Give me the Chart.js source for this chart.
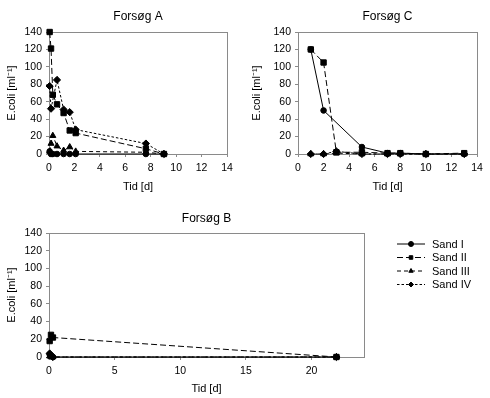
<!DOCTYPE html>
<html><head><meta charset="utf-8">
<script src="https://cdn.jsdelivr.net/npm/chart.js@4.4.0/dist/chart.umd.min.js"></script>
<style>
body{margin:0;background:#fff;width:490px;height:398px;position:relative;overflow:hidden}
canvas{position:absolute}
</style></head><body>
<canvas id="cA" width="245" height="200" style="left:0;top:0"></canvas>
<canvas id="cC" width="245" height="200" style="left:245px;top:0"></canvas>
<canvas id="cB" width="490" height="198" style="left:0;top:200px"></canvas>
<script>
// ---- data ----
const seriesLabels = ['Sand I', 'Sand II', 'Sand III', 'Sand IV'];
const panelTitles = ['Forsøg A', 'Forsøg C', 'Forsøg B'];
const xTitle = 'Tid [d]';
const yTitle = 'E.coli [ml\u207B\u00B9]';

const aTime  = [0.05, 0.16, 0.3, 0.63, 1.15, 1.63, 2.1, 7.62, 9.04];
const aSand1 = [3, 0, 0, 0, 0, 0, 0, 0, 0];
const aSand2 = [140, 121, 68, 57, 47, 27, 24, 6, 0];
const aSand3 = [3, 12, 21, 9, 4, 8, 3, 2, 0];
const aSand4 = [78, 52, null, 85, 51, 48, 28, 12, 0];

const cTime  = [1, 2, 3, 5, 7, 8, 10, 13];
const cSand1 = [120, 50, null, 8, 1, 1, 0, 0];
const cSand2 = [120, 105, 2, 2, 1, 1, 0, 1];
const cSand3 = [0, 0, 1, 0, 0, 0, 0, 0];
const cSand4 = [0, 0, 3, 0, 0, 0, 0, 0];

const bTime  = [0.05, 0.15, 0.3, 21.9];
const bSand1 = [3, 1, 0, 0];
const bSand2 = [18, 25, 22, 0];
const bSand3 = [1, 0, 0, 0];
const bSand4 = [4, 2, 0, 0];

const yTickValues  = [0, 20, 40, 60, 80, 100, 120, 140];
const acTickValues = [0, 2, 4, 6, 8, 10, 12, 14];
const bTickValues  = [0, 5, 10, 15, 20];

// ---- styles ----
const pointStyles = ['circle', 'rect', 'triangle', 'rectRot'];
const pointRadii = [2.8, 3.8, 3.5, 3.6];
const dashes = [[], [6, 3], [4, 3], [2.5, 2]];
const FONT = 'Liberation Sans, Arial, sans-serif';
const GRAY = '#8a8a8a';

function buildDatasets(times, series) {
  return series.map((vals, i) => ({
    label: seriesLabels[i],
    data: times.map((t, k) => ({ x: t, y: vals[k] })),
    borderColor: '#000', backgroundColor: '#000',
    borderWidth: 1, borderDash: dashes[i],
    pointStyle: pointStyles[i], pointRadius: pointRadii[i],
    pointBorderWidth: 1, spanGaps: true, clip: false, tension: 0
  }));
}

const framePlugin = {
  id: 'frame',
  beforeDatasetsDraw(chart) {
    const a = chart.chartArea, ctx = chart.ctx;
    ctx.save(); ctx.strokeStyle = GRAY; ctx.lineWidth = 1;
    ctx.strokeRect(Math.round(a.left) + 0.5, Math.round(a.top) + 0.5,
      Math.round(a.right - a.left), Math.round(a.bottom - a.top));
    ctx.restore();
  },
  afterDraw(chart, args, opts) {
    const a = chart.chartArea, ctx = chart.ctx;
    ctx.save(); ctx.fillStyle = '#000'; ctx.font = '12px ' + FONT;
    ctx.textAlign = 'center'; ctx.textBaseline = 'middle';
    ctx.fillText(opts.text, (a.left + a.right) / 2, opts.y);
    if (opts.legend) {
      const L = opts.legend;
      chart.data.datasets.forEach((ds, i) => {
        const y = L.y0 + i * L.dy;
        ctx.strokeStyle = '#000'; ctx.lineWidth = 1;
        ctx.setLineDash(dashes[i]);
        ctx.beginPath(); ctx.moveTo(L.x0, y); ctx.lineTo(L.x1, y); ctx.stroke();
        ctx.setLineDash([]);
        Chart.helpers.drawPoint(ctx, { pointStyle: pointStyles[i], radius: 2.5, borderWidth: 1, rotation: 0 },
          (L.x0 + L.x1) / 2, y);
        ctx.fillStyle = '#000'; ctx.font = '11px ' + FONT;
        ctx.textAlign = 'left'; ctx.textBaseline = 'middle';
        ctx.fillText(ds.label, L.tx, y + 0.5);
      });
    }
    ctx.restore();
  }
};

function makeChart(id, times, series, xMax, xTicks, cfg) {
  return new Chart(document.getElementById(id), {
    type: 'line',
    data: { datasets: buildDatasets(times, series) },
    plugins: [framePlugin],
    options: {
      responsive: false, animation: false, devicePixelRatio: 1,
      layout: { padding: { top: cfg.top, right: cfg.right, left: 0, bottom: 0 } },
      plugins: {
        legend: { display: false }, tooltip: { enabled: false },
        frame: { text: cfg.title, y: cfg.titleY, legend: cfg.legend }
      },
      scales: {
        x: {
          type: 'linear', min: 0, max: xMax,
          afterBuildTicks: s => { s.ticks = xTicks.map(v => ({ value: v })); },
          afterFit: s => { s.height = cfg.xH; },
          grid: { display: true, color: 'rgba(0,0,0,0)', tickColor: GRAY, tickLength: 3, drawOnChartArea: false },
          border: { display: true, color: GRAY },
          ticks: { color: '#000', font: { family: FONT, size: 10.5 }, padding: 5, maxRotation: 0 },
          title: { display: true, text: xTitle, color: '#000', font: { family: FONT, size: 11 },
                   padding: { top: 0, bottom: cfg.xTitlePad } }
        },
        y: {
          type: 'linear', min: 0, max: 140,
          afterBuildTicks: s => { s.ticks = yTickValues.map(v => ({ value: v })); },
          afterFit: s => { s.width = cfg.yW; },
          grid: { display: true, color: 'rgba(0,0,0,0)', tickColor: GRAY, tickLength: 3, drawOnChartArea: false },
          border: { display: true, color: GRAY },
          ticks: { color: '#000', font: { family: FONT, size: 10.5 }, padding: 4 },
          title: { display: true, text: yTitle, color: '#000', font: { family: FONT, size: 11 },
                   padding: { top: 5, bottom: 0 } }
        }
      }
    }
  });
}

makeChart('cA', aTime, [aSand1, aSand2, aSand3, aSand4], 14, acTickValues,
  { title: panelTitles[0], titleY: 17, top: 32, right: 18, yW: 49, xH: 46, xTitlePad: 6 });
makeChart('cC', cTime, [cSand1, cSand2, cSand3, cSand4], 14, acTickValues,
  { title: panelTitles[1], titleY: 17, top: 32, right: 13, yW: 53, xH: 46, xTitlePad: 6 });
makeChart('cB', bTime, [bSand1, bSand2, bSand3, bSand4], 24, bTickValues,
  { title: panelTitles[2], titleY: 19, top: 33, right: 126, yW: 49, xH: 41, xTitlePad: 2,
    legend: { x0: 397, x1: 425, tx: 432, y0: 44, dy: 13.5 } });
</script>
</body></html>
